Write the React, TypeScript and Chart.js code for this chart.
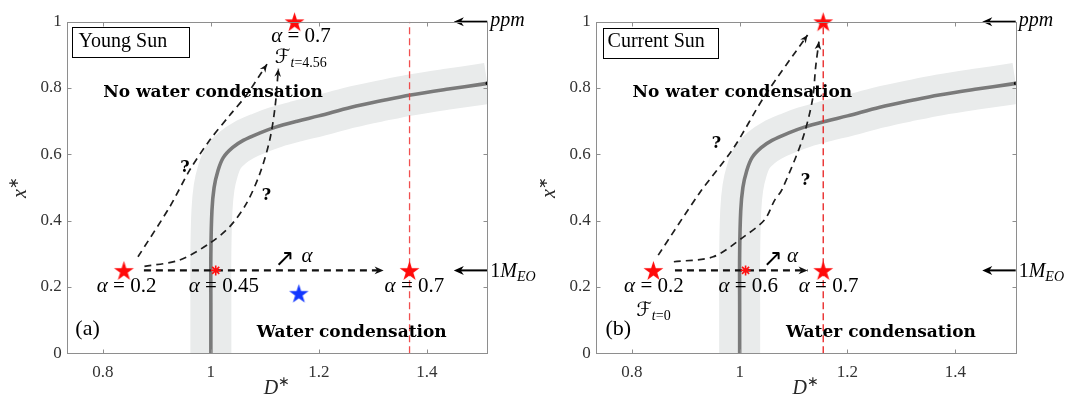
import React, { useEffect, useRef } from 'react';
import { Chart, registerables } from 'chart.js';
Chart.register(...registerables);

// ---------- axes ----------
const X_MIN = 0.733;
const X_MAX = 1.512;
const Y_MIN = 0;
const Y_MAX = 1;
const xTicks = [0.8, 1, 1.2, 1.4];
const yTicks = [0, 0.2, 0.4, 0.6, 0.8, 1];

// ---------- condensation boundary (same in both panels) ----------
const boundaryD = [1.0, 1.0, 1.0, 1.002, 1.006, 1.013, 1.023, 1.04, 1.06, 1.09, 1.12, 1.16, 1.2, 1.26, 1.32, 1.37, 1.44, 1.5, 1.512];
const boundaryX = [0, 0.15, 0.3, 0.43, 0.5, 0.55, 0.59, 0.62, 0.642, 0.664, 0.682, 0.7, 0.716, 0.742, 0.763, 0.779, 0.797, 0.811, 0.814];

// ---------- panel (a) Young Sun ----------
const youngRedStarD = [0.839, 1.368, 1.155];
const youngRedStarX = [0.25, 0.25, 1.0];
const youngAsteriskD = [1.009];
const youngAsteriskX = [0.25];
const youngBlueStarD = [1.163];
const youngBlueStarX = [0.181];
const youngRedLineD = 1.368;
const youngDash1D = [0.865, 0.924, 0.961, 0.998, 1.035, 1.066, 1.104];
const youngDash1X = [0.291, 0.442, 0.553, 0.643, 0.718, 0.779, 0.872];
const youngDash2D = [0.877, 0.942, 0.998, 1.035, 1.066, 1.091, 1.109, 1.119, 1.125];
const youngDash2X = [0.262, 0.281, 0.332, 0.382, 0.452, 0.543, 0.643, 0.744, 0.858];
const youngArrowD = [0.876, 1.32];
const youngArrowX = [0.25, 0.25];
const youngAlphas = ['0.2', '0.45', '0.7'];

// ---------- panel (b) Current Sun ----------
const currentRedStarD = [0.84, 1.155, 1.155];
const currentRedStarX = [0.25, 0.25, 1.0];
const currentAsteriskD = [1.011];
const currentAsteriskX = [0.25];
const currentRedLineD = 1.155;
const currentDash1D = [0.849, 0.925, 0.989, 1.046, 1.126];
const currentDash1X = [0.296, 0.482, 0.62, 0.775, 0.96];
const currentDash2D = [0.878, 0.951, 1.008, 1.046, 1.065, 1.078, 1.116, 1.135, 1.141, 1.147];
const currentDash2X = [0.276, 0.291, 0.352, 0.402, 0.462, 0.492, 0.643, 0.764, 0.864, 0.94];
const currentArrowD = [0.88, 1.126];
const currentArrowX = [0.25, 0.25];
const currentAlphas = ['0.2', '0.6', '0.7'];

// reference levels (outside arrows)
const ppmLevel = 1.0;
const meoLevel = 0.25;
const refArrowFromD = 1.512;
const refArrowToD = 1.45;

// ---------- fonts ----------
const SERIF = "'Liberation Serif', 'Times New Roman', serif";
const REG = (s: number) => `${s}px ${SERIF}`;
const IT = (s: number) => `italic ${s}px ${SERIF}`;
const BOLDW = (s: number) => `bold ${s}px 'DejaVu Serif', serif`;
const SCRIPT = (s: number) => `${s}px 'DejaVu Serif', 'DejaVu Sans', serif`;

type Run = { t: string; f: string; dy?: number };
type Label = { runs: Run[]; d: number; v: number; align: 'left' | 'center' | 'right' };

const alphaRuns = (val: string): Run[] => [
  { t: 'α', f: IT(21) },
  { t: ' = ', f: REG(21) },
  { t: val, f: REG(21) },
];
const pts = (ds: number[], xs: number[]) => ds.map((d, i) => ({ x: d, y: xs[i] }));

function makeStar(color: string, R: number) {
  const c = document.createElement('canvas');
  const s = Math.ceil(2 * R + 2);
  c.width = s;
  c.height = s;
  const g = c.getContext('2d')!;
  g.fillStyle = color;
  g.beginPath();
  for (let i = 0; i < 10; i++) {
    const r = i % 2 === 0 ? R : R * 0.382;
    const a = -Math.PI / 2 + (i * Math.PI) / 5;
    g.lineTo(s / 2 + r * Math.cos(a), s / 2 + 1 + r * Math.sin(a));
  }
  g.closePath();
  g.fill();
  return c;
}

function drawRuns(ctx: CanvasRenderingContext2D, runs: Run[], x: number, y: number, align: string) {
  let w = 0;
  for (const r of runs) {
    ctx.font = r.f;
    w += ctx.measureText(r.t).width;
  }
  let cx = align === 'center' ? x - w / 2 : align === 'right' ? x - w : x;
  ctx.textAlign = 'left';
  ctx.textBaseline = 'alphabetic';
  for (const r of runs) {
    ctx.font = r.f;
    ctx.fillText(r.t, cx, y + (r.dy || 0));
    cx += ctx.measureText(r.t).width;
  }
}

function arrowHead(ctx: CanvasRenderingContext2D, x1: number, y1: number, x2: number, y2: number, len: number, hw: number, color: string) {
  const a = Math.atan2(y2 - y1, x2 - x1);
  const ux = Math.cos(a), uy = Math.sin(a);
  const nx = -uy, ny = ux;
  ctx.fillStyle = color;
  ctx.beginPath();
  ctx.moveTo(x2, y2);
  ctx.lineTo(x2 - ux * len + nx * hw, y2 - uy * len + ny * hw);
  ctx.lineTo(x2 - ux * len * 0.7, y2 - uy * len * 0.7);
  ctx.lineTo(x2 - ux * len - nx * hw, y2 - uy * len - ny * hw);
  ctx.closePath();
  ctx.fill();
}

type Panel = {
  padL: number;
  padR: number;
  redLineD: number;
  redColor: string;
  redStarD: number[];
  redStarX: number[];
  asteriskD: number[];
  asteriskX: number[];
  blueStarD: number[];
  blueStarX: number[];
  dash1D: number[];
  dash1X: number[];
  dash2D: number[];
  dash2X: number[];
  arrowD: number[];
  arrowX: number[];
  boxD: [number, number];
  boxX: [number, number];
  labels: Label[];
};

const BOLD_SIZE = 17;

const youngPanel: Panel = {
  padL: 26.7,
  padR: 52.7,
  redLineD: youngRedLineD,
  redColor: 'rgba(240,60,60,0.9)',
  redStarD: youngRedStarD,
  redStarX: youngRedStarX,
  asteriskD: youngAsteriskD,
  asteriskX: youngAsteriskX,
  blueStarD: youngBlueStarD,
  blueStarX: youngBlueStarX,
  dash1D: youngDash1D,
  dash1X: youngDash1X,
  dash2D: youngDash2D,
  dash2X: youngDash2X,
  arrowD: youngArrowD,
  arrowX: youngArrowX,
  boxD: [0.742, 0.959],
  boxX: [0.893, 0.983],
  labels: [
    { runs: alphaRuns(youngAlphas[0]), d: 0.844, v: 0.186, align: 'center' },
    { runs: alphaRuns(youngAlphas[1]), d: 1.024, v: 0.186, align: 'center' },
    { runs: alphaRuns(youngAlphas[2]), d: 1.377, v: 0.186, align: 'center' },
    { runs: alphaRuns(youngAlphas[2]), d: 1.167, v: 0.94, align: 'center' },
    { runs: [{ t: 'ℱ', f: SCRIPT(20) }, { t: 't', f: IT(14), dy: 4 }, { t: '=4.56', f: REG(14), dy: 4 }], d: 1.1185, v: 0.875, align: 'left' },
    { runs: [{ t: '↗', f: `24px 'DejaVu Sans'` }], d: 1.118, v: 0.262, align: 'left' },
    { runs: [{ t: 'α', f: IT(21) }], d: 1.168, v: 0.276, align: 'left' },
    { runs: [{ t: '?', f: BOLDW(16) }], d: 0.952, v: 0.548, align: 'center' },
    { runs: [{ t: '?', f: BOLDW(16) }], d: 1.103, v: 0.462, align: 'center' },
    { runs: [{ t: '(a)', f: REG(22) }], d: 0.749, v: 0.055, align: 'left' },
    { runs: [{ t: 'Water condensation', f: BOLDW(BOLD_SIZE) }], d: 1.261, v: 0.05, align: 'center' },
    { runs: [{ t: 'No water condensation', f: BOLDW(BOLD_SIZE) }], d: 1.004, v: 0.774, align: 'center' },
    { runs: [{ t: 'Young Sun', f: REG(20) }], d: 0.755, v: 0.925, align: 'left' },
  ],
};

const currentPanel: Panel = {
  padL: 15.7,
  padR: 64.3,
  redLineD: currentRedLineD,
  redColor: '#e81c1c',
  redStarD: currentRedStarD,
  redStarX: currentRedStarX,
  asteriskD: currentAsteriskD,
  asteriskX: currentAsteriskX,
  blueStarD: [],
  blueStarX: [],
  dash1D: currentDash1D,
  dash1X: currentDash1X,
  dash2D: currentDash2D,
  dash2X: currentDash2X,
  arrowD: currentArrowD,
  arrowX: currentArrowX,
  boxD: [0.746, 0.96],
  boxX: [0.89, 0.98],
  labels: [
    { runs: alphaRuns(currentAlphas[0]), d: 0.841, v: 0.186, align: 'center' },
    { runs: alphaRuns(currentAlphas[1]), d: 1.016, v: 0.186, align: 'center' },
    { runs: alphaRuns(currentAlphas[2]), d: 1.165, v: 0.186, align: 'center' },
    { runs: [{ t: 'ℱ', f: SCRIPT(20) }, { t: 't', f: IT(14), dy: 4 }, { t: '=0', f: REG(14), dy: 4 }], d: 0.808, v: 0.112, align: 'left' },
    { runs: [{ t: '↗', f: `24px 'DejaVu Sans'` }], d: 1.043, v: 0.262, align: 'left' },
    { runs: [{ t: 'α', f: IT(21) }], d: 1.088, v: 0.276, align: 'left' },
    { runs: [{ t: '?', f: BOLDW(16) }], d: 0.957, v: 0.618, align: 'center' },
    { runs: [{ t: '?', f: BOLDW(16) }], d: 1.122, v: 0.508, align: 'center' },
    { runs: [{ t: '(b)', f: REG(22) }], d: 0.751, v: 0.055, align: 'left' },
    { runs: [{ t: 'Water condensation', f: BOLDW(BOLD_SIZE) }], d: 1.262, v: 0.05, align: 'center' },
    { runs: [{ t: 'No water condensation', f: BOLDW(BOLD_SIZE) }], d: 1.005, v: 0.774, align: 'center' },
    { runs: [{ t: 'Current Sun', f: REG(20) }], d: 0.755, v: 0.925, align: 'left' },
  ],
};

function makePlugin(p: Panel) {
  return {
    id: 'annot',
    afterDatasetsDraw(chart: any) {
      const ctx: CanvasRenderingContext2D = chart.ctx;
      const xs = chart.scales.x;
      const ys = chart.scales.y;
      const X = (d: number) => xs.getPixelForValue(d);
      const Y = (v: number) => ys.getPixelForValue(v);
      const ca = chart.chartArea;
      ctx.save();

      // arrowheads of dashed paths
      const heads: [number[], number[], number, number][] = [
        [p.dash1D, p.dash1X, 8, 3.3],
        [p.dash2D, p.dash2X, 8, 3.3],
        [p.arrowD, p.arrowX, 9, 3.8],
      ];
      for (const [ds, vs, len, hw] of heads) {
        const n = ds.length;
        arrowHead(ctx, X(ds[n - 2]), Y(vs[n - 2]), X(ds[n - 1]), Y(vs[n - 1]), len, hw, '#111');
      }

      // reference arrows at the right edge
      for (const lvl of [ppmLevel, meoLevel]) {
        const y = Y(lvl);
        ctx.strokeStyle = '#000';
        ctx.lineWidth = 2;
        ctx.beginPath();
        ctx.moveTo(X(refArrowFromD), y);
        ctx.lineTo(X(refArrowToD) + 6, y);
        ctx.stroke();
        arrowHead(ctx, X(refArrowFromD), y, X(refArrowToD), y, 10, 4.5, '#000');
      }
      ctx.fillStyle = '#000';
      drawRuns(ctx, [{ t: 'ppm', f: IT(20) }], ca.right + 3, Y(ppmLevel) + 4, 'left');
      drawRuns(ctx, [{ t: '1', f: REG(20) }, { t: 'M', f: IT(20) }, { t: 'EO', f: IT(14), dy: 4 }], ca.right + 3, Y(meoLevel) + 7, 'left');

      // title box
      const bx1 = X(p.boxD[0]), bx2 = X(p.boxD[1]);
      const by1 = Y(p.boxX[1]), by2 = Y(p.boxX[0]);
      ctx.fillStyle = '#fff';
      ctx.fillRect(bx1, by1, bx2 - bx1, by2 - by1);
      ctx.strokeStyle = '#000';
      ctx.lineWidth = 1;
      ctx.strokeRect(Math.round(bx1) + 0.5, Math.round(by1) + 0.5, Math.round(bx2 - bx1), Math.round(by2 - by1));

      // text labels
      ctx.fillStyle = '#000';
      for (const l of p.labels) drawRuns(ctx, l.runs, X(l.d), Y(l.v), l.align);

      // frame and inward ticks
      ctx.strokeStyle = '#8e8e8e';
      ctx.lineWidth = 1;
      const L = Math.round(ca.left) + 0.5, R = Math.round(ca.right) + 0.5;
      const T = Math.round(ca.top) + 0.5, B = Math.round(ca.bottom) + 0.5;
      ctx.strokeRect(L, T, R - L, B - T);
      ctx.beginPath();
      for (const t of xTicks) {
        const x = Math.round(X(t)) + 0.5;
        ctx.moveTo(x, B); ctx.lineTo(x, B - 4);
        ctx.moveTo(x, T); ctx.lineTo(x, T + 4);
      }
      for (const t of yTicks) {
        const y = Math.round(Y(t)) + 0.5;
        ctx.moveTo(L, y); ctx.lineTo(L + 4, y);
        ctx.moveTo(R, y); ctx.lineTo(R - 4, y);
      }
      ctx.stroke();

      // axis titles
      ctx.fillStyle = '#262626';
      drawRuns(ctx, [{ t: 'D', f: IT(20) }, { t: '∗', f: REG(14), dy: -8 }], (ca.left + ca.right) / 2, ca.bottom + 41, 'center');
      ctx.save();
      ctx.translate(ca.left - 41, (ca.top + ca.bottom) / 2);
      ctx.rotate(-Math.PI / 2);
      drawRuns(ctx, [{ t: 'x', f: IT(20) }, { t: '∗', f: REG(14), dy: -8 }], 0, 0, 'center');
      ctx.restore();

      ctx.restore();
    },
  };
}

function buildChart(canvas: HTMLCanvasElement, p: Panel) {
  const redStar = makeStar('#ff0a0a', 10.4);
  const blueStar = makeStar('#1237ff', 10.2);
  const boundary = pts(boundaryD, boundaryX);
  const datasets: any[] = [
    { data: boundary, borderColor: '#e9ebeb', borderWidth: 41, pointRadius: 0, tension: 0.35, clip: 0, borderJoinStyle: 'round', borderCapStyle: 'butt', order: 10 },
    {
      data: boundary, borderColor: '#7a7a7a', borderWidth: 3.6, tension: 0.35, clip: 0, order: 9,
      pointRadius: (c: any) => (c.dataIndex === boundaryD.length - 1 ? 1.8 : 0),
      pointBackgroundColor: '#000', pointBorderWidth: 0,
    },
    { data: [{ x: p.redLineD, y: Y_MIN }, { x: p.redLineD, y: Y_MAX }], borderColor: p.redColor, borderWidth: 1.3, borderDash: [7, 4], pointRadius: 0, clip: 0, order: 8 },
    { data: pts(p.dash1D, p.dash1X), borderColor: '#1e1e1e', borderWidth: 1.7, borderDash: [7, 5], pointRadius: 0, tension: 0.3, order: 7 },
    { data: pts(p.dash2D, p.dash2X), borderColor: '#1e1e1e', borderWidth: 1.7, borderDash: [7, 5], pointRadius: 0, tension: 0.3, order: 7 },
    { data: pts(p.arrowD, p.arrowX), borderColor: '#111', borderWidth: 2.1, borderDash: [7, 5], pointRadius: 0, order: 6 },
    { data: pts(p.redStarD, p.redStarX), showLine: false, pointStyle: redStar, pointRadius: 10, clip: false, order: 1 },
    { data: pts(p.blueStarD, p.blueStarX), showLine: false, pointStyle: blueStar, pointRadius: 10, clip: false, order: 1 },
    { data: pts(p.asteriskD, p.asteriskX), showLine: false, pointStyle: 'star', pointRadius: 5, pointBorderColor: '#ff1010', pointBorderWidth: 1.6, clip: false, order: 0 },
  ];
  return new Chart(canvas, {
    type: 'line',
    data: { datasets },
    options: {
      animation: false,
      responsive: false,
      maintainAspectRatio: false,
      events: [],
      layout: { padding: { left: p.padL, right: p.padR, top: 21.7, bottom: 17.7 } },
      plugins: { legend: { display: false }, tooltip: { enabled: false } },
      scales: {
        x: {
          type: 'linear',
          min: X_MIN,
          max: X_MAX,
          grid: { display: false, drawTicks: false },
          border: { display: false },
          afterBuildTicks: (s: any) => { s.ticks = xTicks.map((v) => ({ value: v })); },
          afterFit: (s: any) => { s.height = 30; },
          ticks: { font: { family: SERIF, size: 17 }, color: '#333', padding: 9, maxRotation: 0, autoSkip: false, callback: (v: any) => String(v) },
        },
        y: {
          type: 'linear',
          min: Y_MIN,
          max: Y_MAX,
          grid: { display: false, drawTicks: false },
          border: { display: false },
          afterBuildTicks: (s: any) => { s.ticks = yTicks.map((v) => ({ value: v })); },
          afterFit: (s: any) => { s.width = 40; },
          ticks: { font: { family: SERIF, size: 17 }, color: '#333', padding: 5, autoSkip: false, callback: (v: any) => String(v) },
        },
      },
    },
    plugins: [makePlugin(p)],
  } as any);
}

export default function App() {
  const leftRef = useRef<HTMLCanvasElement>(null);
  const rightRef = useRef<HTMLCanvasElement>(null);
  useEffect(() => {
    const a = buildChart(leftRef.current!, youngPanel);
    const b = buildChart(rightRef.current!, currentPanel);
    return () => {
      a.destroy();
      b.destroy();
    };
  }, []);
  const cs: React.CSSProperties = { position: 'absolute', top: 0, width: 540, height: 401 };
  return (
    <div style={{ position: 'absolute', left: 0, top: 0, width: 1080, height: 401, background: '#fff', overflow: 'hidden' }}>
      <canvas ref={leftRef} width={540} height={401} style={{ ...cs, left: 0 }} />
      <canvas ref={rightRef} width={540} height={401} style={{ ...cs, left: 540 }} />
    </div>
  );
}
